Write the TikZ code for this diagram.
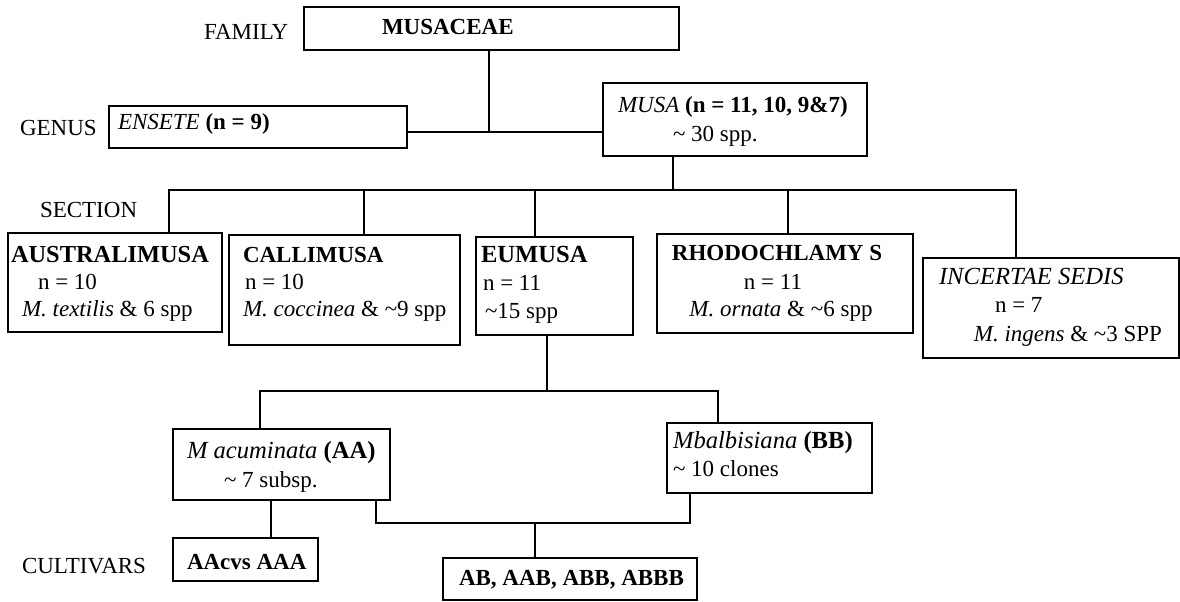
\documentclass[tikz,border=0pt]{standalone}
\usepackage{fontspec}
\setmainfont{Liberation Serif}
\begin{document}
\begin{tikzpicture}[x=1pt,y=-1pt,
  every node/.style={inner sep=0pt, outer sep=0pt, font=\fontsize{23}{27}\selectfont},
  box/.style={draw, line width=2pt, rectangle, anchor=north west},
  link/.style={line width=2.6pt, line join=miter},
  lbl/.style={anchor=mid west},
  lblc/.style={anchor=mid},
  lble/.style={anchor=mid east},
  big/.style={font=\fontsize{24.6}{28}\selectfont}]
\useasboundingbox (0,0) rectangle (1180,602);

% ---- boxes (top-left corner, width, height) ----
\node[box, minimum width=375, minimum height=43] (musaceae) at (304,7) {};
\node[box, minimum width=298, minimum height=42] (ensete) at (109,106) {};
\node[box, minimum width=264, minimum height=73] (musa) at (603,83) {};
\node[box, minimum width=214, minimum height=99] (austr) at (8,233) {};
\node[box, minimum width=231, minimum height=110] (calli) at (229,235) {};
\node[box, minimum width=157, minimum height=98] (eumusa) at (476,237) {};
\node[box, minimum width=256, minimum height=99] (rhodo) at (657,234) {};
\node[box, minimum width=256, minimum height=100] (incert) at (923,258) {};
\node[box, minimum width=217, minimum height=71] (macum) at (173,429) {};
\node[box, minimum width=205, minimum height=70] (mbalb) at (667,423) {};
\node[box, minimum width=145, minimum height=43] (aacv) at (173,538) {};
\node[box, minimum width=254, minimum height=42] (abbox) at (443,558) {};

% ---- rank labels ----
\node[lbl] (tfam) at (204,37) {FAMILY};
\node[lbl] (tgenus) at (20,133) {GENUS};
\node[lbl] (tsection) at (40,215) {SECTION};
\node[lbl] (tcult) at (22,571) {CULTIVARS};

% ---- box texts ----
\node[lbl] (tmusaceae) at (382,32) {\bfseries MUSACEAE};
\node[lbl] (tensete) at (118,127) {\textit{ENSETE} \textbf{(n = 9)}};
\node[lbl] (tmusa1) at (618,110) {\textit{MUSA} \textbf{(n = 11, 10, 9\&7)}};
\node[lbl] (tmusa2) at (673,139) {\textasciitilde{} 30 spp.};

\node[lbl, font=\fontsize{24.4}{28}\selectfont] (ta1) at (11,260) {\bfseries AUSTRALIMUSA};
\node[lbl] (ta2) at (38,287) {n = 10};
\node[lbl] (ta3) at (22,314) {\textit{M. textilis} \& 6 spp};

\node[lbl] (tc1) at (243,260) {\bfseries CALLIMUSA};
\node[lbl] (tc2) at (245,287) {n = 10};
\node[lbl] (tc3) at (243,314) {\textit{M. coccinea} \& \textasciitilde9 spp};

\node[lbl, font=\fontsize{24.6}{28}\selectfont] (te1) at (481,260) {\bfseries EUMUSA};
\node[lbl] (te2) at (483,288) {n = 11};
\node[lbl] (te3) at (485,316) {\textasciitilde15 spp};

\node[lblc] (tr1) at (777,258) {\bfseries RHODOCHLAMY S};
\node[lblc] (tr2) at (773,287) {n = 11};
\node[lblc] (tr3) at (781,314) {\textit{M. ornata} \& \textasciitilde6 spp};

\node[lbl, big] (ti1) at (939,282) {\itshape INCERTAE SEDIS};
\node[lbl] (ti2) at (995,310) {n = 7};
\node[lble] (ti3) at (1162,339) {\textit{M. ingens} \& \textasciitilde3 SPP};

\node[lbl, big] (tm1) at (187,456) {\textit{M acuminata} \textbf{(AA)}};
\node[lbl] (tm2) at (224,485) {\textasciitilde{} 7 subsp.};

\node[lbl, big] (tb1) at (673,446) {\textit{Mbalbisiana} \textbf{(BB)}};
\node[lbl] (tb2) at (673,474) {\textasciitilde{} 10 clones};

\node[lbl] (tcv1) at (187,567) {\bfseries AAcvs AAA};
\node[lbl] (tcv2) at (459,583) {\bfseries AB, AAB, ABB, ABBB};

% ---- family to genera ----
\coordinate (jg) at (489,132);
\draw[link] (musaceae.south -| jg) -- (jg);
\draw[link] (ensete.east |- jg) -- (musa.west |- jg);

% ---- genus Musa to sections ----
\coordinate (js) at (673,190);
\coordinate (d1) at (169,190);
\coordinate (d2) at (364,190);
\coordinate (d3) at (535,190);
\coordinate (d4) at (788,190);
\coordinate (d5) at (1016,190);
\draw[link] (musa.south -| js) -- (js);
\draw[link] (austr.north -| d1) -- (d1) -- (d5) -- (incert.north -| d5);
\draw[link] (d2) -- (calli.north -| d2);
\draw[link] (d3) -- (eumusa.north -| d3);
\draw[link] (d4) -- (rhodo.north -| d4);

% ---- Eumusa to species ----
\coordinate (je) at (547,391);
\coordinate (ja) at (260,391);
\coordinate (jb) at (718,391);
\draw[link] (eumusa.south -| je) -- (je);
\draw[link] (macum.north -| ja) -- (ja) -- (jb) -- (mbalb.north -| jb);

% ---- species to cultivars ----
\coordinate (jc) at (271,519);
\draw[link] (macum.south -| jc) -- (aacv.north -| jc);
\coordinate (jx1) at (376,523);
\coordinate (jx2) at (690,523);
\coordinate (jh) at (535,523);
\draw[link] (macum.south -| jx1) -- (jx1) -- (jx2) -- (mbalb.south -| jx2);
\draw[link] (jh) -- (abbox.north -| jh);
\end{tikzpicture}
\end{document}
